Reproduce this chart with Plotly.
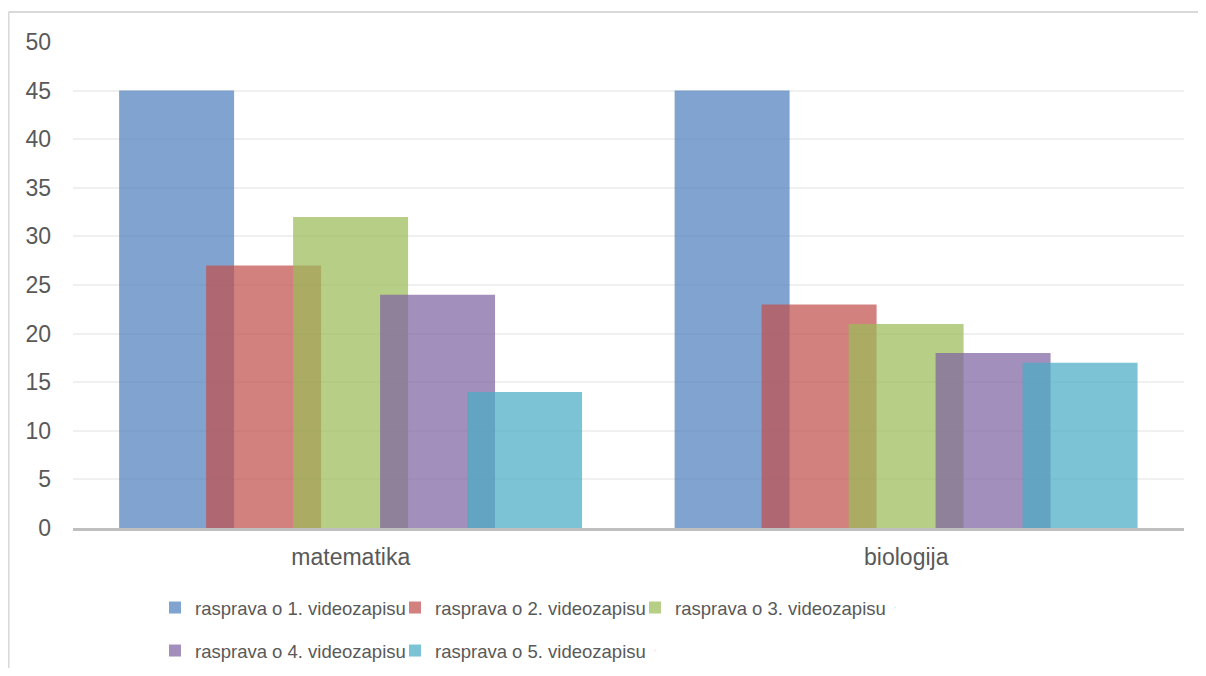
import plotly.graph_objects as go

categories = ["matematika", "biologija"]
series_names = [
    "rasprava o 1. videozapisu",
    "rasprava o 2. videozapisu",
    "rasprava o 3. videozapisu",
    "rasprava o 4. videozapisu",
    "rasprava o 5. videozapisu",
]
values = [
    [45, 45],
    [27, 23],
    [32, 21],
    [24, 18],
    [14, 17],
]
colors = [
    "rgba(79,129,189,0.72)",
    "rgba(192,80,77,0.72)",
    "rgba(155,187,89,0.72)",
    "rgba(128,100,162,0.72)",
    "rgba(75,172,198,0.72)",
]
y_ticks = [0, 5, 10, 15, 20, 25, 30, 35, 40, 45, 50]

bar_width = 0.207
step = 0.1566
first_offset = -0.417

fig = go.Figure()
for i, (name, vals) in enumerate(zip(series_names, values)):
    fig.add_trace(go.Bar(
        x=categories, y=vals, name=name,
        width=bar_width, offset=first_offset + i * step,
        marker=dict(color=colors[i], line=dict(width=0)),
        legend="legend" if i < 3 else "legend2",
    ))

# invisible spacer entries so the last real legend entry is not clipped
for lg in ["legend", "legend2"]:
    fig.add_trace(go.Scatter(
        x=[None], y=[None], mode="markers", name=" ",
        marker=dict(opacity=0, size=1), legend=lg,
        hoverinfo="skip", showlegend=True,
    ))

font_family = "Liberation Sans, Arial, sans-serif"
legend_common = dict(
    orientation="h", xanchor="left", yanchor="middle",
    font=dict(size=18.5, color="#595959", family=font_family),
    traceorder="normal", itemwidth=30,
    entrywidth=195, entrywidthmode="pixels",
    bgcolor="rgba(0,0,0,0)",
    itemclick=False, itemdoubleclick=False,
)
fig.update_layout(
    barmode="overlay",
    width=1190, height=660,
    margin=dict(l=65, r=14, t=34, b=140, autoexpand=False),
    paper_bgcolor="white", plot_bgcolor="white",
    font=dict(family=font_family, size=20, color="#595959"),
    xaxis=dict(
        type="category", range=[-0.5, 1.5],
        showgrid=False, showline=True, linecolor="#BFBFBF", linewidth=2.5,
        ticks="", tickfont=dict(size=23, color="#595959"),
        ticklabelstandoff=7,
    ),
    yaxis=dict(
        range=[0, 50], tickvals=y_ticks, showgrid=True, gridcolor="#F0F0F0",
        gridwidth=2, zeroline=False, showline=False, ticks="",
        tickfont=dict(size=23, color="#595959"), ticklabelstandoff=21,
    ),
    legend=dict(x=0.0738, y=-0.1646, **legend_common),
    legend2=dict(x=0.0738, y=-0.2531, **legend_common),
    showlegend=True,
    shapes=[
        dict(type="line", xref="paper", yref="paper",
             x0=-0.058, x1=1.03, y0=1.0617, y1=1.0617,
             line=dict(color="#D9D9D9", width=2)),
        dict(type="line", xref="paper", yref="paper",
             x0=-0.058, x1=-0.058, y0=1.0617, y1=-0.32,
             line=dict(color="#D9D9D9", width=2)),
    ],
)

fig.write_html("out.html")
